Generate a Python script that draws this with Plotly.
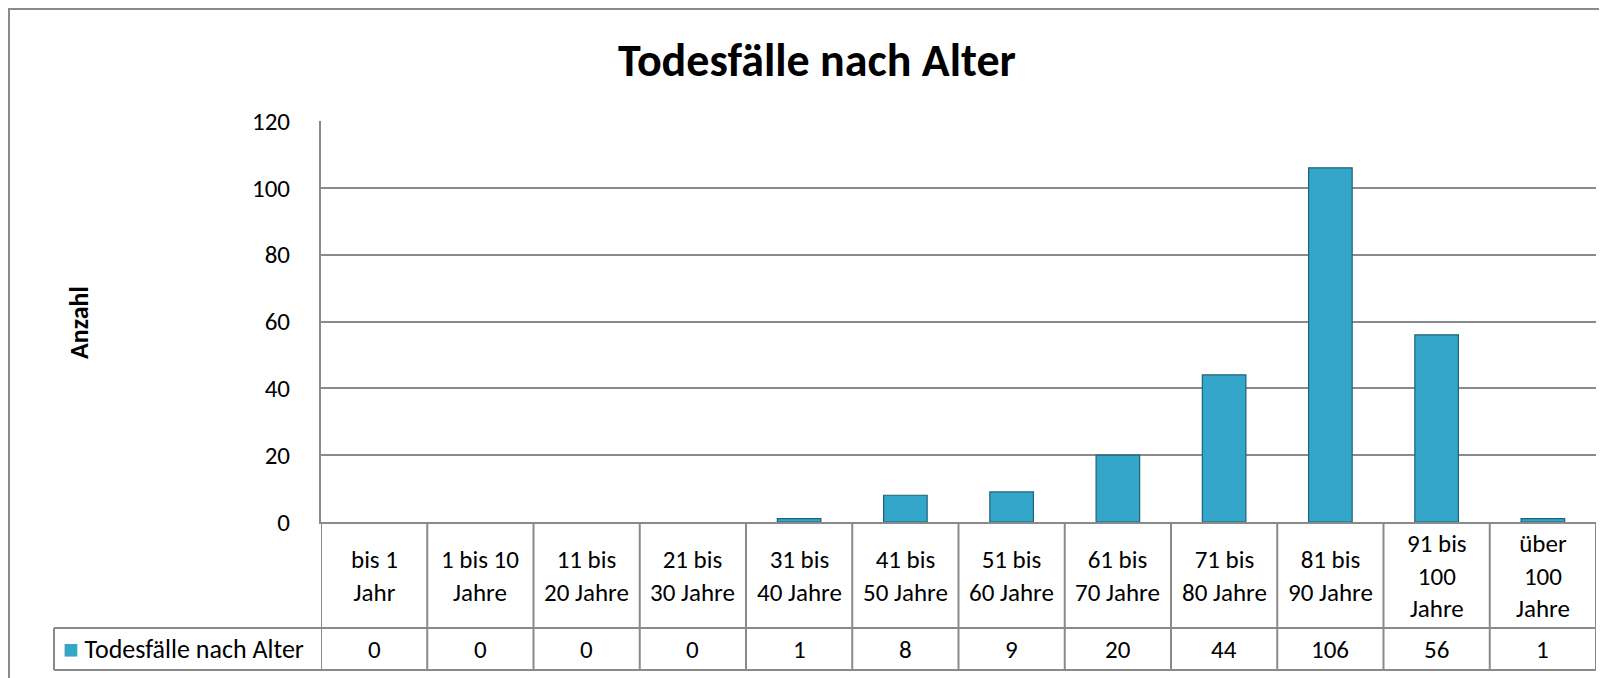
import plotly.graph_objects as go

categories = [
    "bis 1<br>Jahr", "1 bis 10<br>Jahre", "11 bis<br>20 Jahre", "21 bis<br>30 Jahre",
    "31 bis<br>40 Jahre", "41 bis<br>50 Jahre", "51 bis<br>60 Jahre", "61 bis<br>70 Jahre",
    "71 bis<br>80 Jahre", "81 bis<br>90 Jahre", "91 bis<br>100<br>Jahre", "über<br>100<br>Jahre",
]
deaths = [0, 0, 0, 0, 1, 8, 9, 20, 44, 106, 56, 1]
series_name = "Todesfälle nach Alter"
y_ticks = [0, 20, 40, 60, 80, 100, 120]

FONT = "Carlito, Calibri, Lato, sans-serif"
GRID = "#8A8A8A"
BAR = "#34A6C9"

# page body has an 8px margin, so the figure is drawn shifted by 8px
OFF = 8
W, H = 1607 - OFF, 678 - OFF
# plot area in screen pixels (as measured on the reference)
L, R, T, B = 321, 1596, 121, 522
PH = B - T
PW = R - L


def py(y):
    return (B - y) / PH


def px_(x):
    return (x - L) / PW


idx = list(range(len(categories)))

fig = go.Figure()
fig.add_trace(go.Bar(
    x=idx, y=deaths, name=series_name,
    marker=dict(color=BAR,
                line=dict(color="#1E6378", width=[0 if v == 0 else 1.2 for v in deaths])),
    width=0.41, showlegend=False,
))

shapes = []
row1, row2 = py(628), py(670)
# data table grid
for i in range(len(categories) + 1):
    shapes.append(dict(type="line", xref="x", yref="paper", x0=i - 0.5, x1=i - 0.5,
                       y0=row2, y1=0, line=dict(color=GRID, width=2)))
for yy in (row1, row2):
    shapes.append(dict(type="line", xref="paper", yref="paper", x0=px_(54), x1=1,
                       y0=yy, y1=yy, line=dict(color=GRID, width=2)))
shapes.append(dict(type="line", xref="paper", yref="paper", x0=px_(54), x1=px_(54),
                   y0=row2, y1=row1, line=dict(color=GRID, width=2)))
# outer chart frame
shapes.append(dict(type="rect", xref="paper", yref="paper", x0=px_(9), x1=1.2,
                   y0=-0.6, y1=py(9), line=dict(color=GRID, width=2)))

annotations = []
for i, (c, v) in enumerate(zip(categories, deaths)):
    annotations.append(dict(x=i, y=py(576), xref="x", yref="paper", text=c,
                            showarrow=False, yanchor="middle", align="center",
                            font=dict(family=FONT, size=25, color="black")))
    annotations.append(dict(x=i, y=py(649), xref="x", yref="paper", text=str(v),
                            showarrow=False, yanchor="middle",
                            font=dict(family=FONT, size=25, color="black")))
annotations.append(dict(x=px_(61), y=py(649), xref="paper", yref="paper",
                        text=f"<span style='color:{BAR}'>■</span> {series_name}",
                        showarrow=False, xanchor="left", yanchor="middle",
                        font=dict(family=FONT, size=26, color="black")))
annotations.append(dict(x=px_(61), y=py(323), xref="paper", yref="paper",
                        text="<b>Anzahl</b>", textangle=-90, showarrow=False,
                        font=dict(family=FONT, size=26, color="black")))

fig.update_layout(
    width=W, height=H,
    margin=dict(l=L - OFF, r=W - (R - OFF), t=T - OFF, b=H - (B - OFF)),
    paper_bgcolor="white", plot_bgcolor="white",
    title=dict(text="<b>Todesfälle nach Alter</b>", x=(817 - OFF) / W, xanchor="center",
               y=1 - (60 - OFF) / H, yanchor="middle",
               font=dict(family=FONT, size=46, color="black")),
    font=dict(family=FONT, size=24, color="black"),
    xaxis=dict(range=[-0.5, len(categories) - 0.5], showticklabels=False,
               showgrid=False, zeroline=False, showline=True,
               linecolor=GRID, linewidth=2),
    yaxis=dict(range=[0, 120], tickvals=y_ticks, showgrid=True, gridcolor=GRID,
               gridwidth=2, zeroline=False, showline=True, linecolor=GRID,
               linewidth=2, ticklabelstandoff=24,
               tickfont=dict(family=FONT, size=25, color="black")),
    shapes=shapes, annotations=annotations,
    bargap=0.59,
)

fig.write_html("out.html")
